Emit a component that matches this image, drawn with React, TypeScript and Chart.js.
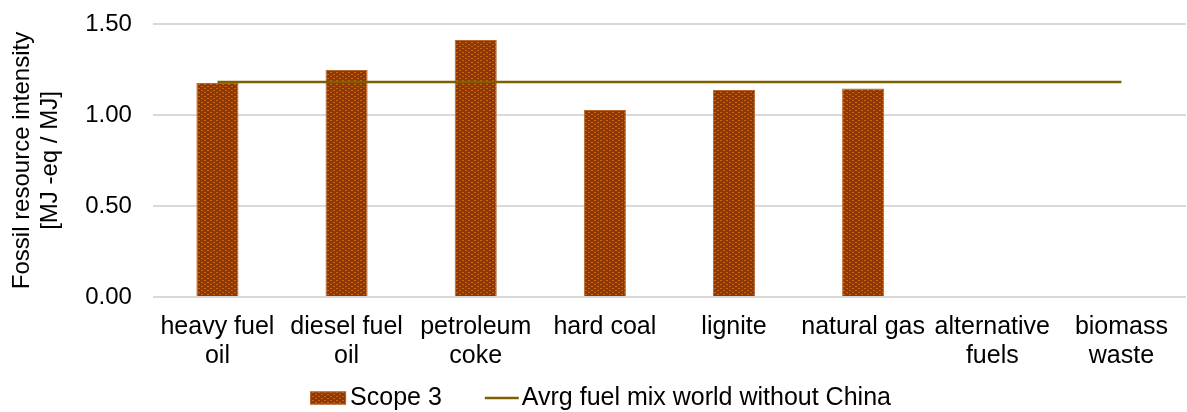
import React, { useEffect, useRef } from "react";
import { Chart, registerables } from "chart.js";

Chart.register(...registerables);

const categories: string[][] = [
  ["heavy fuel", "oil"],
  ["diesel fuel", "oil"],
  ["petroleum", "coke"],
  ["hard coal"],
  ["lignite"],
  ["natural gas"],
  ["alternative", "fuels"],
  ["biomass", "waste"],
];
const scope3Values: (number | null)[] = [1.176, 1.247, 1.412, 1.027, 1.137, 1.146, null, null];
const avgMixValues: number[] = [1.181, 1.181, 1.181, 1.181, 1.181, 1.181, 1.181, 1.181];
const yTicks: number[] = [0, 0.5, 1.0, 1.5];
const seriesNames: string[] = ["Scope 3", "Avrg fuel mix world without China"];

const FONT = "'Liberation Sans', Arial, sans-serif";
const BAR_BORDER = "#B8672E";
const LINE_COLOR = "#7F6000";

function makePatternCanvas(): HTMLCanvasElement {
  const c = document.createElement("canvas");
  c.width = 6;
  c.height = 4;
  const ctx = c.getContext("2d")!;
  ctx.fillStyle = "#8A3A0A";
  ctx.fillRect(0, 0, 6, 4);
  ctx.fillStyle = "#CF650F";
  ctx.fillRect(0, 0, 2, 1);
  ctx.fillRect(3, 2, 2, 1);
  return c;
}

export default function App() {
  const ref = useRef<HTMLCanvasElement | null>(null);
  useEffect(() => {
    document.body.style.margin = "0";
    const canvas = ref.current;
    if (!canvas) return;
    const tile = makePatternCanvas();
    const pctx = canvas.getContext("2d")!;
    const pattern = pctx.createPattern(tile, "repeat")!;

    const legendPlugin = {
      id: "customLegend",
      afterDraw(ch: any) {
        const ctx = ch.ctx as CanvasRenderingContext2D;
        ctx.save();
        ctx.font = `25px ${FONT}`;
        ctx.textBaseline = "middle";
        ctx.fillStyle = "#000";
        const swW = 36, swH = 13, gapText = 4, gapItems = 43, lineW = 34, gapLine = 3;
        const w0 = ctx.measureText(seriesNames[0]).width;
        const w1 = ctx.measureText(seriesNames[1]).width;
        const total = swW + gapText + w0 + gapItems + lineW + gapLine + w1;
        let x = ch.width / 2 + 7 - total / 2;
        const cy = 398;
        ctx.fillStyle = pattern;
        ctx.fillRect(x, cy - swH / 2, swW, swH);
        ctx.strokeStyle = BAR_BORDER;
        ctx.lineWidth = 1;
        ctx.strokeRect(x + 0.5, cy - swH / 2 + 0.5, swW - 1, swH - 1);
        x += swW + gapText;
        ctx.fillStyle = "#000";
        ctx.fillText(seriesNames[0], x, cy);
        x += w0 + gapItems;
        ctx.strokeStyle = LINE_COLOR;
        ctx.lineWidth = 2.5;
        ctx.beginPath();
        ctx.moveTo(x, cy);
        ctx.lineTo(x + lineW, cy);
        ctx.stroke();
        x += lineW + gapLine;
        ctx.fillText(seriesNames[1], x, cy);
        ctx.restore();
      },
    };

    const chart = new Chart(canvas, {
      type: "bar",
      data: {
        labels: categories,
        datasets: [
          {
            type: "line",
            label: seriesNames[1],
            data: avgMixValues,
            borderColor: LINE_COLOR,
            backgroundColor: LINE_COLOR,
            borderWidth: 2.5,
            pointRadius: 0,
            order: 0,
          } as any,
          {
            type: "bar",
            label: seriesNames[0],
            data: scope3Values,
            backgroundColor: pattern as any,
            borderColor: BAR_BORDER,
            borderWidth: 1,
            barPercentage: 0.326,
            categoryPercentage: 1,
            order: 1,
          } as any,
        ],
      },
      plugins: [legendPlugin],
      options: {
        animation: false,
        responsive: false,
        maintainAspectRatio: false,
        layout: { autoPadding: false, padding: { left: 6, right: 1, top: 24, bottom: 26 } },
        plugins: {
          legend: { display: false },
          tooltip: { enabled: false },
        },
        scales: {
          x: {
            grid: { display: false, drawTicks: false },
            border: { display: false },
            ticks: {
              font: { family: FONT, size: 25, lineHeight: 1.14 },
              color: "#000",
              maxRotation: 0,
              autoSkip: false,
              padding: 16,
            },
          },
          y: {
            min: 0,
            max: 1.5,
            afterBuildTicks: (axis: any) => {
              axis.ticks = yTicks.map((v) => ({ value: v }));
            },
            grid: { color: "#D9D9D9", lineWidth: 2, drawTicks: false },
            border: { display: false },
            ticks: {
              font: { family: FONT, size: 24, lineHeight: 0.1 },
              color: "#000",
              padding: 21,
              callback: (v: any) => Number(v).toFixed(2),
            },
            title: {
              display: true,
              text: ["Fossil resource intensity", "[MJ -eq / MJ]"],
              font: { family: FONT, size: 24, lineHeight: 1.17 },
              color: "#000",
              padding: { top: 2, bottom: 0 },
            },
          },
        },
      },
    });
    return () => chart.destroy();
  }, []);
  return <canvas ref={ref} width={1187} height={412} style={{ display: "block" }} />;
}
